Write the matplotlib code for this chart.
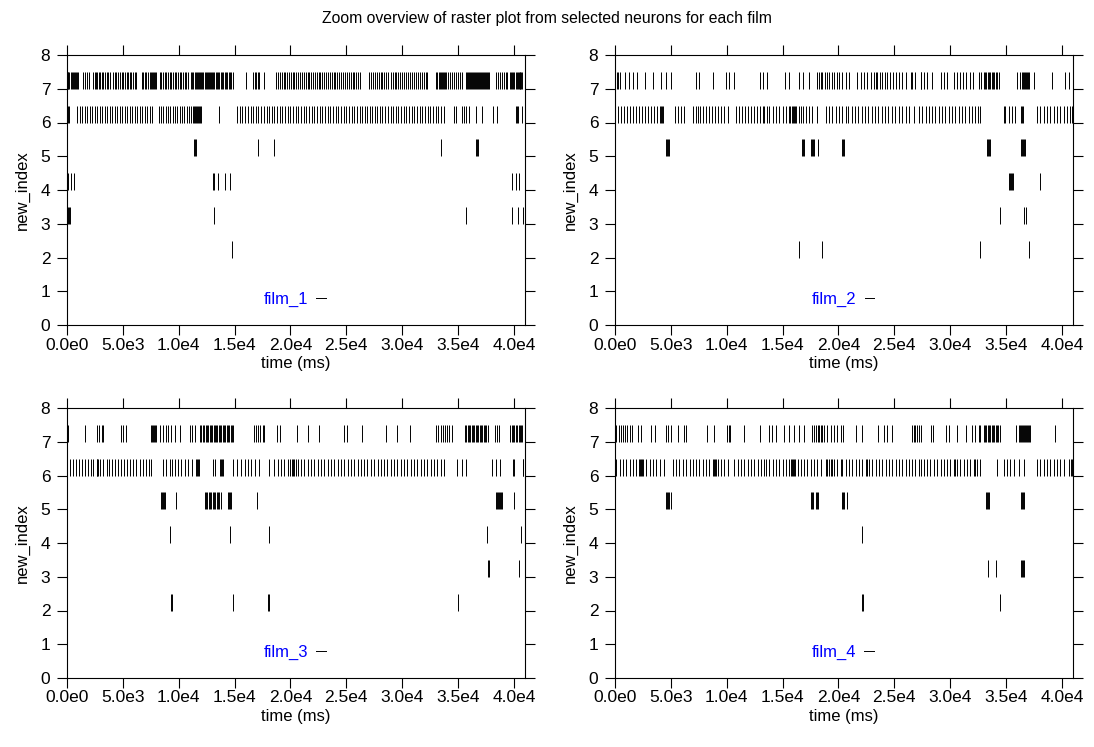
import matplotlib
matplotlib.use("Agg")
import matplotlib.pyplot as plt
from matplotlib.lines import Line2D

plt.rcParams['font.family'] = ['Liberation Sans', 'DejaVu Sans']

title = "Zoom overview of raster plot from selected neurons for each film"
film_names = ["film_1", "film_2", "film_3", "film_4"]
row_ids = [7, 6, 5, 4, 3, 2]
xtick_values = [0, 5000, 10000, 15000, 20000, 25000, 30000, 35000, 40000]
xtick_labels = ["0.0e0", "5.0e3", "1.0e4", "1.5e4", "2.0e4", "2.5e4", "3.0e4", "3.5e4", "4.0e4"]
ytick_values = [0, 1, 2, 3, 4, 5, 6, 7, 8]

# ---------------- film_1 spike times (ms) ----------------
film1_row7 = [0, 60, 120, 210, 330, 420, 510, 620, 710, 800, 920, 1010, 1400, 1610, 1820, 1990,
              2350, 2470, 2590, 2710, 2830, 2950, 3100, 3240, 3390, 3540, 3690, 3840, 4140, 4290,
              4430, 4580, 4730, 4880, 5030, 5180, 5330, 5480, 5620, 5770, 5920, 6070, 6220, 6670,
              6810, 6960, 7110, 7260, 7410, 7560, 7650, 7740, 7830, 7920, 8000, 8300, 8450, 8600,
              8750, 8900, 9050, 9200, 9340, 9490, 9640, 9790, 9940, 10090, 10240, 10390, 10530,
              10680, 10830, 11130, 11220, 11310, 11430, 11520, 11610, 11730, 11820, 11900, 12020,
              12110, 12200, 12320, 12410, 12500, 12620, 12710, 12800, 12920, 13010, 13100, 13200,
              13300, 13400, 13500, 13600, 13750, 13870, 13990, 14110, 14230, 14350, 14460, 14580,
              14700, 14820, 16040, 16640, 16790, 16930, 17080, 17230, 17680, 18720, 18870, 19050,
              19230, 19400, 19550, 19700, 19880, 20060, 20240, 20360, 20540, 20710, 20890, 21040,
              21190, 21370, 21550, 21700, 21840, 22020, 22200, 22380, 22530, 22680, 22860, 23040,
              23210, 23330, 23510, 23690, 23870, 24020, 24170, 24340, 24520, 24700, 24880, 25060,
              25240, 25420, 25590, 25710, 25890, 26070, 26250, 27050, 27230, 27410, 27590, 27770,
              27950, 28100, 28240, 28420, 28600, 28780, 28960, 29140, 29320, 29490, 29670, 29850,
              30030, 30210, 30390, 30570, 30740, 30920, 31100, 31220, 31400, 31580, 31760, 31930,
              32110, 32260, 33010, 33160, 33300, 33420, 33510, 33600, 33690, 33780, 33870, 33960,
              34140, 34320, 34490, 34670, 34850, 35030, 35210, 35390, 35680, 35770, 35860, 35950,
              36040, 36130, 36220, 36310, 36400, 36490, 36580, 36670, 36760, 36850, 36930, 37020,
              37110, 37200, 37290, 37380, 37470, 37560, 37650, 37740, 38360, 38540, 38720, 38900,
              39080, 39260, 39430, 39700, 39790, 39880, 39970, 40060, 40150, 40240, 40330, 40420,
              40510, 40590, 40680, 40770]
film1_row6 = [30, 120, 210, 920, 1160, 1370, 1610, 1820, 2050, 2260, 2500, 2710, 2950, 3160, 3390,
              3600, 3840, 4050, 4290, 4490, 4730, 4940, 5180, 5390, 5620, 5830, 6070, 6280, 6520,
              6730, 6960, 7170, 7410, 7620, 8210, 8420, 8630, 8840, 9050, 9260, 9460, 9670, 9880,
              10090, 10300, 10500, 10710, 10920, 11130, 11250, 11340, 11430, 11520, 11610, 11700,
              11790, 11870, 12020, 13600, 15240, 15480, 15710, 15950, 16190, 16430, 16670, 16900,
              17140, 17380, 17620, 17860, 18100, 18330, 18570, 18810, 19050, 19290, 19520, 19760,
              20000, 20240, 20480, 20710, 20950, 21190, 21430, 21670, 21900, 22140, 22380, 22620,
              22860, 23090, 23330, 23570, 23810, 24050, 24280, 24520, 24760, 25000, 25240, 25470,
              25710, 25950, 26190, 26430, 26670, 26900, 27140, 27290, 27530, 27770, 28010, 28240,
              28480, 28720, 28960, 29200, 29430, 29670, 29910, 30150, 30390, 30630, 30860, 31100,
              31340, 31580, 31820, 32050, 32290, 32530, 32770, 33010, 33240, 33480, 33720, 34640,
              34850, 35390, 35540, 35680, 35980, 36640, 37170, 38130, 38510, 40150, 40240, 40330,
              40740]
film1_row5 = [11370, 11450, 11540, 17080, 18570, 33510, 36580, 36670, 36760]
film1_row4 = [120, 330, 620, 13070, 13200, 13500, 14100, 14550, 39850, 40150, 40450]
film1_row3 = [60, 150, 240, 13150, 35680, 39850, 40390, 40800]
film1_row2 = [40, 14760]

# ---------------- film_2 spike times (ms) ----------------
film2_row7 = [30, 150, 300, 420, 860, 1220, 1610, 1990, 2650, 3390, 4140, 4580, 5030, 7260, 7560,
              8750, 9940, 10240, 10680, 13010, 13210, 13570, 15240, 15600, 16490, 16850, 17380,
              18120, 18270, 18420, 18570, 18810, 19020, 19170, 19460, 19610, 19910, 20060, 20360,
              20650, 20950, 21700, 21990, 22290, 22590, 22890, 23180, 23330, 23480, 23690, 23930,
              24170, 24370, 24580, 24880, 25180, 25420, 25710, 26010, 26460, 26610, 26900, 27350,
              27410, 27650, 27950, 28390, 29200, 29430, 29730, 30390, 30630, 30860, 31160, 31460,
              31760, 32050, 32560, 32770, 33010, 33130, 33240, 33360, 33480, 33600, 33720, 33840,
              33960, 34080, 34200, 34340, 35980, 36280, 36430, 36520, 36610, 36700, 36790, 36880,
              36970, 37050, 37470, 39110, 40300, 40600]
film2_row6 = [270, 540, 800, 1070, 1340, 1610, 1880, 2140, 2410, 2680, 2950, 3210, 3480, 3750, 3990,
              4140, 4230, 4320, 5330, 5620, 5920, 6220, 6960, 7260, 7410, 7650, 7920, 8180, 8450,
              8720, 8990, 9260, 9520, 9790, 10090, 10830, 11100, 11370, 11640, 11900, 12170, 12440,
              12710, 12980, 13240, 13360, 13570, 13810, 14110, 14400, 14700, 15000, 15300, 15540,
              15710, 15830, 15920, 16010, 16100, 16190, 16430, 16640, 16840, 17080, 17380, 17680,
              18120, 18870, 19170, 19460, 19760, 20060, 20360, 20650, 20890, 21190, 21490, 21780,
              22080, 22380, 22680, 22980, 23270, 23570, 23870, 24170, 24460, 24760, 25060, 25420,
              25710, 26010, 26310, 26750, 27200, 27500, 27800, 28100, 28390, 28690, 28990, 29290,
              29580, 29880, 30180, 30480, 30770, 31070, 31370, 31670, 31960, 32260, 32470, 32710,
              34790, 34940, 35240, 35540, 35830, 36340, 36430, 36520, 37770, 38060, 38360, 38660,
              38960, 39260, 39550, 39850, 40150, 40450, 40740, 40890]
film2_row5 = [4580, 4670, 4760, 4850, 16780, 16870, 16960, 17530, 17620, 17710, 17830, 18210, 20300,
              20420, 20500, 33300, 33390, 33480, 33570, 36340, 36430, 36520, 36610, 36700]
film2_row4 = [35240, 35330, 35420, 35510, 35590, 38060]
film2_row3 = [34430, 36640, 36790]
film2_row2 = [16430, 18510, 32710, 37080]

# ---------------- film_3 spike times (ms) ----------------
film3_row7 = [30, 90, 1610, 2710, 2890, 3100, 3240, 4790, 5030, 5270, 7560, 7650, 7740, 7830, 7920,
              8000, 8300, 8600, 8840, 9050, 9340, 9640, 10090, 10980, 11220, 11430, 11870, 12020,
              12170, 12290, 12410, 12530, 12650, 12770, 12890, 13000, 13120, 13240, 13330, 13450,
              13570, 13690, 13810, 13930, 14050, 14170, 14290, 14400, 14520, 14640, 14760, 14880,
              16720, 16930, 17140, 17320, 17530, 17680, 18780, 19080, 20590, 21550, 22530, 24760,
              25030, 26400, 28540, 29580, 30680, 33010, 33240, 33450, 33660, 33840, 34050, 34200,
              34490, 35620, 35740, 35860, 35980, 36100, 36220, 36340, 36460, 36580, 36700, 36810,
              36930, 37050, 37170, 37290, 37410, 37530, 37650, 38300, 38450, 38660, 39700, 39820,
              39940, 40060, 40180, 40300, 40420, 40530, 40650, 40770]
film3_row6 = [270, 570, 800, 1070, 1340, 1610, 1880, 2140, 2350, 2650, 2710, 2770, 2950, 3240, 3540,
              3780, 4050, 4320, 4580, 4850, 5120, 5390, 5680, 5920, 6220, 6520, 6820, 7050, 7350,
              7560, 8600, 8900, 9200, 9430, 9700, 9970, 10240, 10540, 10830, 11220, 11580, 11670,
              11760, 11840, 13070, 13210, 13660, 13750, 13840, 13930, 14850, 15240, 15540, 15890,
              16190, 16490, 16840, 17230, 18120, 18510, 18870, 19170, 19460, 19760, 20000, 20120,
              20210, 20300, 20500, 20650, 20950, 21250, 21550, 21840, 22140, 22440, 22740, 23030,
              23330, 23630, 23930, 24220, 24520, 24820, 25120, 25420, 25710, 26010, 26310, 26610,
              26900, 27200, 27500, 27800, 28100, 28390, 28690, 28990, 29290, 29580, 29880, 30180,
              30480, 30770, 31070, 31370, 31670, 31960, 32260, 32560, 32860, 33160, 33450, 33750,
              34940, 35330, 35680, 38070, 38360, 38720, 39910, 40000, 40800, 40860]
film3_row5 = [8450, 8540, 8630, 8720, 8810, 9790, 12320, 12440, 12560, 12680, 12800, 12920, 13040,
              13150, 13270, 13390, 13510, 13630, 13760, 14400, 14490, 14580, 14700, 17020, 38420,
              38510, 38600, 38690, 38780, 38870, 38960, 40060]
film3_row4 = [9260, 14610, 18120, 37620, 40680]
film3_row3 = [37710, 37800, 40450]
film3_row2 = [9290, 9380, 14850, 17980, 18100, 35030]

# ---------------- film_4 spike times (ms) ----------------
film4_row7 = [120, 330, 510, 710, 860, 1100, 1310, 1520, 2050, 2350, 3240, 3540, 4580, 4730, 4970,
              5620, 6160, 6370, 8240, 8840, 10030, 10180, 10330, 11580, 13010, 13750, 14050, 14400,
              15150, 15540, 16040, 16490, 16930, 17620, 17830, 17980, 18130, 18270, 18420, 18570,
              18720, 19020, 19320, 19610, 19910, 20210, 20420, 21550, 22140, 23570, 24080, 24370,
              24820, 26550, 26750, 26900, 27050, 27200, 27350, 28300, 28480, 29670, 29880, 30630,
              31460, 31960, 32260, 32560, 32710, 33010, 33130, 33240, 33360, 33480, 33600, 33720,
              33840, 33960, 34080, 34200, 34320, 34430, 35920, 36130, 36280, 36370, 36460, 36550,
              36640, 36730, 36810, 36900, 36990, 37080, 37170, 39400]
film4_row6 = [120, 420, 710, 1010, 1310, 1610, 1900, 2110, 2200, 2290, 2380, 2500, 2800, 3100, 3390,
              3690, 3990, 4430, 5180, 5480, 5770, 6070, 6370, 6670, 6960, 7260, 7560, 7860, 8150,
              8450, 8750, 8840, 8930, 9020, 9200, 9490, 9790, 10090, 10680, 10980, 11280, 11580,
              11870, 12170, 12470, 12770, 13070, 13360, 13510, 13810, 14110, 14400, 14700, 15000,
              15300, 15590, 15770, 15860, 15950, 16040, 16130, 16340, 16640, 16930, 17230, 17530,
              17830, 18120, 18420, 18870, 19020, 19170, 19320, 19460, 19610, 19910, 20210, 20360,
              20650, 20950, 21250, 21550, 21840, 22140, 22440, 22590, 22740, 23030, 23330, 23630,
              23930, 24230, 24520, 24820, 25120, 25420, 25710, 26010, 26310, 26610, 26900, 27200,
              27350, 27650, 27950, 28240, 28540, 28840, 29140, 29430, 29730, 30030, 30330, 30480,
              30630, 30920, 31220, 31520, 31820, 32110, 32260, 32410, 32710, 34200, 34790, 35090,
              35390, 35680, 36130, 36580, 37770, 38070, 38360, 38660, 38960, 39260, 39550, 39850,
              40150, 40600, 40800, 40890]
film4_row5 = [4580, 4670, 4760, 4850, 5030, 17530, 17620, 17710, 17980, 18070, 18160, 20300, 20390,
              20470, 20800, 33240, 33330, 33420, 33510, 36340, 36430, 36520, 36610]
film4_row4 = [22140]
film4_row3 = [33360, 34140, 36340, 36430, 36520, 36610]
film4_row2 = [22080, 22170, 34430]

films = [
    [film1_row7, film1_row6, film1_row5, film1_row4, film1_row3, film1_row2],
    [film2_row7, film2_row6, film2_row5, film2_row4, film2_row3, film2_row2],
    [film3_row7, film3_row6, film3_row5, film3_row4, film3_row3, film3_row2],
    [film4_row7, film4_row6, film4_row5, film4_row4, film4_row3, film4_row2],
]

W, H = 1094, 747
fig = plt.figure(figsize=(W / 100, H / 100), dpi=100)
fig.patch.set_facecolor('white')

panel_px = [(67, 55), (615, 55), (67, 408), (615, 408)]
pw, ph = 458, 270

for k, (name, rows) in enumerate(zip(film_names, films)):
    x0, y0 = panel_px[k]
    ax = fig.add_axes([x0 / W, 1 - (y0 + ph) / H, pw / W, ph / H])
    for r, times in zip(row_ids, rows):
        ax.vlines(times, r, r + 0.5, color='black', linewidth=0.7)
    ax.set_xlim(0, 41000)
    ax.set_ylim(0, 8)
    ax.set_xticks(xtick_values)
    ax.set_xticklabels(xtick_labels)
    ax.set_yticks(ytick_values)
    ax.tick_params(axis='both', which='both', direction='out', length=7, width=0.8,
                   top=True, right=True, labelsize=12.5, color='black')
    ax.tick_params(axis='x', pad=2)
    ax.tick_params(axis='y', pad=5)
    for s in ax.spines.values():
        s.set_linewidth(0.8)
    ax.set_xlabel("time (ms)", fontsize=12, labelpad=2.5)
    ax.set_ylabel("new_index", fontsize=12, labelpad=8)
    ax.legend(handles=[Line2D([], [], color='black', linewidth=0.7)], labels=[name],
              loc='center', bbox_to_anchor=(0.497, 0.096), frameon=False,
              markerfirst=False, handlelength=0.55, handletextpad=0.5,
              labelcolor='blue', fontsize=12)

fig.text(0.5, 1 - 19 / H, title, ha='center', va='center', fontsize=11.3)

fig.savefig("out.png", dpi=100)
